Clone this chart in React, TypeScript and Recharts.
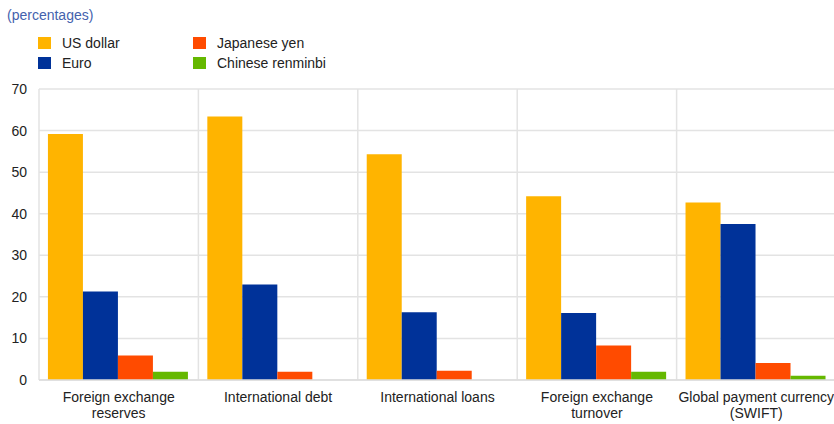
import { BarChart, Bar, XAxis, YAxis, CartesianGrid } from "recharts";

const categories = [
  "Foreign exchange\nreserves",
  "International debt",
  "International loans",
  "Foreign exchange\nturnover",
  "Global payment currency\n(SWIFT)",
];

const usDollar = [59.2, 63.4, 54.3, 44.2, 42.7];
const euro = [21.3, 23.0, 16.3, 16.1, 37.5];
const japaneseYen = [5.9, 2.0, 2.2, 8.3, 4.1];
const chineseRenminbi = [2.0, 0, 0, 2.0, 1.0];

const yTicks = [0, 10, 20, 30, 40, 50, 60, 70];

const series = [
  { key: "usd", name: "US dollar", color: "#FFB400" },
  { key: "eur", name: "Euro", color: "#003299" },
  { key: "jpy", name: "Japanese yen", color: "#FF4B00" },
  { key: "cny", name: "Chinese renminbi", color: "#65B800" },
];

const data = categories.map((name, i) => ({
  name,
  usd: usDollar[i],
  eur: euro[i],
  jpy: japaneseYen[i],
  cny: chineseRenminbi[i],
}));

const FONT = "'Liberation Sans', Arial, sans-serif";

function CategoryTick({ x, y, payload }: any) {
  const lines = String(payload.value).split("\n");
  return (
    <text x={x} y={y + 14} textAnchor="middle" fontSize={14} fill="#222" fontFamily={FONT}>
      {lines.map((line, i) => (
        <tspan key={i} x={x} dy={i === 0 ? 0 : 16}>
          {line}
        </tspan>
      ))}
    </text>
  );
}

function LegendItem({ x, y, color, label }: { x: number; y: number; color: string; label: string }) {
  return (
    <div style={{ position: "absolute", left: x, top: y, display: "flex", alignItems: "center" }}>
      <span style={{ width: 13, height: 12, background: color, display: "inline-block" }} />
      <span style={{ marginLeft: 11, fontSize: 14, color: "#222", lineHeight: "12px" }}>{label}</span>
    </div>
  );
}

export default function App() {
  const n = categories.length;
  return (
    <div
      style={{
        position: "relative",
        width: 834,
        height: 424,
        overflow: "hidden",
        fontFamily: FONT,
      }}
    >
      <style>{`body { margin: 0; }`}</style>
      <div style={{ position: "absolute", left: 7, top: 8, fontSize: 14, lineHeight: "14px", color: "#4462ad" }}>
        (percentages)
      </div>
      <LegendItem x={38} y={37} color={series[0].color} label={series[0].name} />
      <LegendItem x={38} y={57} color={series[1].color} label={series[1].name} />
      <LegendItem x={193} y={37} color={series[2].color} label={series[2].name} />
      <LegendItem x={193} y={57} color={series[3].color} label={series[3].name} />

      <div style={{ position: "absolute", left: 0, top: 0 }}>
        <BarChart
          width={836}
          height={424}
          data={data}
          margin={{ top: 89, right: 0, bottom: 0, left: 0 }}
          barCategoryGap="5.6%"
          barGap={0}
        >
          <CartesianGrid
            stroke="#e3e3e3"
            strokeWidth={1.5}
            verticalCoordinatesGenerator={({ offset }: any) =>
              Array.from({ length: n + 1 }, (_, i) => offset.left + (i * offset.width) / n)
            }
          />
          <XAxis
            dataKey="name"
            interval={0}
            tickLine={false}
            axisLine={{ stroke: "#dcdcdc", strokeWidth: 1.5 }}
            height={44}
            tick={<CategoryTick />}
          />
          <YAxis
            domain={[0, 70]}
            ticks={yTicks}
            width={39}
            axisLine={false}
            tickLine={false}
            tickSize={0}
            tickMargin={12}
            tick={{ fontSize: 14, fill: "#222", fontFamily: FONT }}
          />
          {series.map((s) => (
            <Bar key={s.key} dataKey={s.key} name={s.name} fill={s.color} isAnimationActive={false} />
          ))}
        </BarChart>
      </div>
    </div>
  );
}
